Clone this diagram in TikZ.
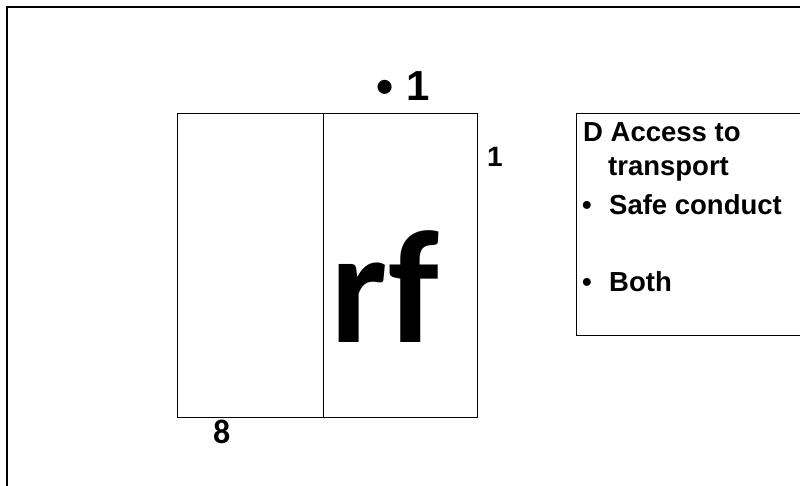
\documentclass[tikz,border=0pt]{standalone}
\usepackage{fontspec}
\setmainfont{Liberation Sans}
\newfontfamily\carlito{Carlito}
\begin{document}
\begin{tikzpicture}[x=1pt,y=-1pt,
  frame/.style={line width=1.4pt},
  cell/.style={draw,line width=1pt,rectangle,inner sep=0pt},
  txt/.style={inner sep=0pt,anchor=base west,font=\fontsize{27.5}{30}\selectfont\bfseries},
  num/.style={inner sep=0pt,anchor=base west}]
\useasboundingbox (0,0) rectangle (800,486);
\clip (0,0) rectangle (800,486);
% outer frame
\coordinate (fbl) at (7,490);
\coordinate (ftl) at (7,7);
\coordinate (ftr) at (805,7);
\draw[frame] (fbl) -- (ftl) -- (ftr);
% left boxes
\node[cell,minimum width=146pt,minimum height=303pt] (leftcell) at (250,265.5) {};
\node[cell,minimum width=154pt,minimum height=303pt] (rightcell) at (400,265.5) {};
% right text box
\node[cell,minimum width=240pt,minimum height=221pt] (textbox) at (696,224.5) {};
% texts
\node[num,font=\fontsize{42}{46}\selectfont\bfseries] (top1) at (376,101) {\raisebox{-2.2pt}{\fontsize{49}{50}\selectfont •}\hspace{1pt} 1};
\node[num,font=\fontsize{28}{30}\selectfont\bfseries] (side1) at (487,167) {1};
\node[num,font=\carlito\fontsize{34}{36}\selectfont\bfseries] (eight) at (213,443) {8};
\node[inner sep=0pt,anchor=base,font=\carlito\fontsize{161}{166}\selectfont\bfseries] (rf) at (385,342) {rf};
\node[txt] (head1) at (583,142) {D Access to};
\node[txt] (head2) at (608,176) {transport};
\node[txt] (b1) at (582,215) {•};
\node[txt] (safe) at (609,215) {Safe conduct};
\node[txt] (b2) at (582,291) {•};
\node[txt] (both) at (609,291) {Both};
\end{tikzpicture}
\end{document}
